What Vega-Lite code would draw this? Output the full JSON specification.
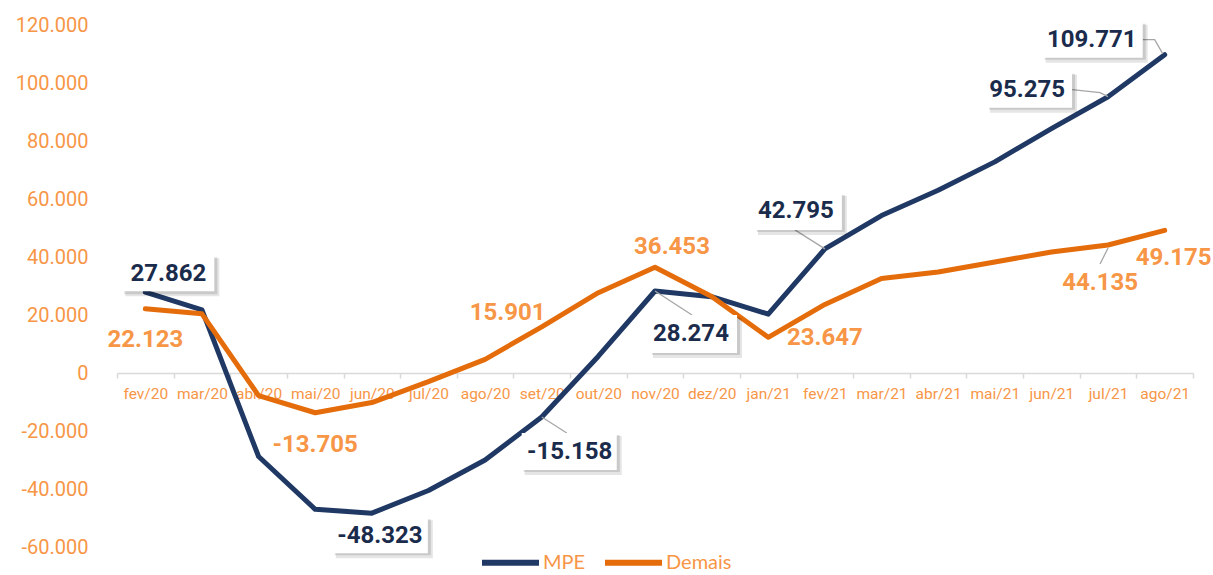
{
  "$schema": "https://vega.github.io/schema/vega-lite/v6.json",
  "width": 1076,
  "height": 522,
  "autosize": "none",
  "padding": {"left": 117, "top": 25, "right": 20, "bottom": 28},
  "background": "white",
  "config": {
    "view": {"stroke": null},
    "locale": {"number": {"decimal": ",", "thousands": ".", "grouping": [3], "currency": ["R$ ", ""], "minus": "-"}}
  },
  "datasets": {
    "lines": [
      {"month": "fev/20", "series": "MPE", "value": 27862},
      {"month": "mar/20", "series": "MPE", "value": 21800},
      {"month": "abr/20", "series": "MPE", "value": -28800},
      {"month": "mai/20", "series": "MPE", "value": -47000},
      {"month": "jun/20", "series": "MPE", "value": -48323},
      {"month": "jul/20", "series": "MPE", "value": -40500},
      {"month": "ago/20", "series": "MPE", "value": -30000},
      {"month": "set/20", "series": "MPE", "value": -15158},
      {"month": "out/20", "series": "MPE", "value": 5800},
      {"month": "nov/20", "series": "MPE", "value": 28274},
      {"month": "dez/20", "series": "MPE", "value": 26300},
      {"month": "jan/21", "series": "MPE", "value": 20300},
      {"month": "fev/21", "series": "MPE", "value": 42795},
      {"month": "mar/21", "series": "MPE", "value": 54300},
      {"month": "abr/21", "series": "MPE", "value": 63000},
      {"month": "mai/21", "series": "MPE", "value": 72800},
      {"month": "jun/21", "series": "MPE", "value": 84300},
      {"month": "jul/21", "series": "MPE", "value": 95275},
      {"month": "ago/21", "series": "MPE", "value": 109771},
      {"month": "fev/20", "series": "Demais", "value": 22123},
      {"month": "mar/20", "series": "Demais", "value": 20400},
      {"month": "abr/20", "series": "Demais", "value": -7800},
      {"month": "mai/20", "series": "Demais", "value": -13705},
      {"month": "jun/20", "series": "Demais", "value": -10200},
      {"month": "jul/20", "series": "Demais", "value": -3000},
      {"month": "ago/20", "series": "Demais", "value": 4700},
      {"month": "set/20", "series": "Demais", "value": 15901},
      {"month": "out/20", "series": "Demais", "value": 27700},
      {"month": "nov/20", "series": "Demais", "value": 36453},
      {"month": "dez/20", "series": "Demais", "value": 26400},
      {"month": "jan/21", "series": "Demais", "value": 12300},
      {"month": "fev/21", "series": "Demais", "value": 23647},
      {"month": "mar/21", "series": "Demais", "value": 32600},
      {"month": "abr/21", "series": "Demais", "value": 34800},
      {"month": "mai/21", "series": "Demais", "value": 38300},
      {"month": "jun/21", "series": "Demais", "value": 41700},
      {"month": "jul/21", "series": "Demais", "value": 44135},
      {"month": "ago/21", "series": "Demais", "value": 49175}
    ]
  },
  "data": {"name": "lines"},
  "encoding": {
    "x": {
      "field": "month", "type": "ordinal", "bandPosition": 0.5,
      "sort": ["fev/20","mar/20","abr/20","mai/20","jun/20","jul/20","ago/20","set/20","out/20","nov/20","dez/20","jan/21","fev/21","mar/21","abr/21","mai/21","jun/21","jul/21","ago/21"],
      "scale": {"type": "band", "paddingInner": 0, "paddingOuter": 0},
      "axis": {"title": null, "offset": -174, "grid": false, "domainColor": "#D9D9D9", "domainWidth": 1.5, "tickColor": "#D9D9D9", "tickWidth": 1.5, "tickSize": 5, "tickBand": "extent", "labelColor": "#F79646", "labelFont": "Roboto", "labelFontSize": 15.5, "labelPadding": 8, "labelAngle": 0}
    },
    "y": {
      "field": "value", "type": "quantitative",
      "scale": {"domain": [-60000, 120000], "nice": false, "zero": false},
      "axis": {"title": null, "grid": false, "domain": false, "ticks": false, "values": [-60000,-40000,-20000,0,20000,40000,60000,80000,100000,120000], "format": ",d", "labelColor": "#F79646", "labelFont": "Roboto", "labelFontSize": 20, "labelPadding": 29}
    }
  },
  "layer": [
    {
      "mark": {"type": "line", "strokeWidth": 5, "strokeCap": "round", "strokeJoin": "round"},
      "encoding": {
        "color": {
          "field": "series", "type": "nominal",
          "scale": {"domain": ["MPE", "Demais"], "range": ["#1F3864", "#E46C0A"]},
          "sort": ["MPE", "Demais"],
          "legend": {"orient": "none", "legendX": 362, "legendY": 506, "direction": "horizontal", "title": null, "symbolType": "stroke", "symbolSize": 3249, "symbolStrokeWidth": 6, "labelColor": "#F79646", "labelFont": "Lato", "labelFontSize": 20, "labelOffset": 1, "columnPadding": 7}
        },
        "order": {"field": "series", "sort": "descending"}
      }
    },
    {
      "transform": [{"filter": "datum.series === 'MPE' && datum.month === 'fev/20'"}],
      "layer": [
        {"mark": {"type": "point", "size": 4, "filled": true, "fill": "#000", "opacity": 0.1, "shape": "M-20,-34H74V4H-20Z"}},
        {"mark": {"type": "point", "size": 4, "filled": true, "fill": "#000", "opacity": 0.12, "shape": "M-21,-35H72V2H-21Z"}},
        {"mark": {"type": "point", "size": 4, "filled": true, "fill": "#fff", "opacity": 1, "shape": "M-23,-37H69V-1H-23Z"}},
        {"mark": {"type": "text", "dx": 23, "dy": -18, "font": "Roboto", "fontWeight": "bold", "fontSize": 24, "color": "#1A2B4C", "align": "center", "baseline": "middle"}, "encoding": {"text": {"field": "value", "format": ",d"}}}
      ]
    },
    {
      "transform": [{"filter": "datum.series === 'MPE' && datum.month === 'jun/20'"}],
      "layer": [
        {"mark": {"type": "point", "size": 4, "filled": true, "fill": "#000", "opacity": 0.1, "shape": "M-36,7H61V45H-36Z"}},
        {"mark": {"type": "point", "size": 4, "filled": true, "fill": "#000", "opacity": 0.12, "shape": "M-37,6H59V42H-37Z"}},
        {"mark": {"type": "point", "size": 4, "filled": true, "fill": "#fff", "opacity": 1, "shape": "M-40,4H56V40H-40Z"}},
        {"mark": {"type": "text", "dx": 8, "dy": 23, "font": "Roboto", "fontWeight": "bold", "fontSize": 24, "color": "#1A2B4C", "align": "center", "baseline": "middle"}, "encoding": {"text": {"field": "value", "format": ",d"}}}
      ]
    },
    {
      "transform": [{"filter": "datum.series === 'MPE' && datum.month === 'set/20'"}],
      "layer": [
        {"mark": {"type": "point", "size": 4, "color": "#A6A6A6", "filled": false, "strokeWidth": 1.3, "opacity": 1, "shape": "M0,0L25,16"}},
        {"mark": {"type": "point", "size": 4, "filled": true, "fill": "#000", "opacity": 0.1, "shape": "M-17,19H80V58H-17Z"}},
        {"mark": {"type": "point", "size": 4, "filled": true, "fill": "#000", "opacity": 0.12, "shape": "M-18,18H78V55H-18Z"}},
        {"mark": {"type": "point", "size": 4, "filled": true, "fill": "#fff", "opacity": 1, "shape": "M-20,16H75V53H-20Z"}},
        {"mark": {"type": "text", "dx": 28, "dy": 35, "font": "Roboto", "fontWeight": "bold", "fontSize": 24, "color": "#1A2B4C", "align": "center", "baseline": "middle"}, "encoding": {"text": {"field": "value", "format": ",d"}}}
      ]
    },
    {
      "transform": [{"filter": "datum.series === 'MPE' && datum.month === 'nov/20'"}],
      "layer": [
        {"mark": {"type": "point", "size": 4, "color": "#A6A6A6", "filled": false, "strokeWidth": 1.3, "opacity": 1, "shape": "M0,0L37,24"}},
        {"mark": {"type": "point", "size": 4, "filled": true, "fill": "#000", "opacity": 0.1, "shape": "M-2,27H87V67H-2Z"}},
        {"mark": {"type": "point", "size": 4, "filled": true, "fill": "#000", "opacity": 0.12, "shape": "M-3,26H85V64H-3Z"}},
        {"mark": {"type": "point", "size": 4, "filled": true, "fill": "#fff", "opacity": 1, "shape": "M-5,24H82V62H-5Z"}},
        {"mark": {"type": "text", "dx": 36, "dy": 43, "font": "Roboto", "fontWeight": "bold", "fontSize": 24, "color": "#1A2B4C", "align": "center", "baseline": "middle"}, "encoding": {"text": {"field": "value", "format": ",d"}}}
      ]
    },
    {
      "transform": [{"filter": "datum.series === 'MPE' && datum.month === 'fev/21'"}],
      "layer": [
        {"mark": {"type": "point", "size": 4, "color": "#A6A6A6", "filled": false, "strokeWidth": 1.3, "opacity": 1, "shape": "M0,0L-30,-19"}},
        {"mark": {"type": "point", "size": 4, "filled": true, "fill": "#000", "opacity": 0.1, "shape": "M-67,-53H22V-14H-67Z"}},
        {"mark": {"type": "point", "size": 4, "filled": true, "fill": "#000", "opacity": 0.12, "shape": "M-68,-54H20V-17H-68Z"}},
        {"mark": {"type": "point", "size": 4, "filled": true, "fill": "#fff", "opacity": 1, "shape": "M-70,-56H17V-19H-70Z"}},
        {"mark": {"type": "text", "dx": -29, "dy": -38, "font": "Roboto", "fontWeight": "bold", "fontSize": 24, "color": "#1A2B4C", "align": "center", "baseline": "middle"}, "encoding": {"text": {"field": "value", "format": ",d"}}}
      ]
    },
    {
      "transform": [{"filter": "datum.series === 'MPE' && datum.month === 'jul/21'"}],
      "layer": [
        {"mark": {"type": "point", "size": 4, "color": "#A6A6A6", "filled": false, "strokeWidth": 1.3, "opacity": 1, "shape": "M-36,-7L-8,-4L0,0"}},
        {"mark": {"type": "point", "size": 4, "filled": true, "fill": "#000", "opacity": 0.1, "shape": "M-118,-22H-31V16H-118Z"}},
        {"mark": {"type": "point", "size": 4, "filled": true, "fill": "#000", "opacity": 0.12, "shape": "M-119,-23H-33V13H-119Z"}},
        {"mark": {"type": "point", "size": 4, "filled": true, "fill": "#fff", "opacity": 1, "shape": "M-121,-25H-36V11H-121Z"}},
        {"mark": {"type": "text", "dx": -81, "dy": -7, "font": "Roboto", "fontWeight": "bold", "fontSize": 24, "color": "#1A2B4C", "align": "center", "baseline": "middle"}, "encoding": {"text": {"field": "value", "format": ",d"}}}
      ]
    },
    {
      "transform": [{"filter": "datum.series === 'MPE' && datum.month === 'ago/21'"}],
      "layer": [
        {"mark": {"type": "point", "size": 4, "color": "#A6A6A6", "filled": false, "strokeWidth": 1.3, "opacity": 1, "shape": "M-22,-15L-10,-15L-2,-1"}},
        {"mark": {"type": "point", "size": 4, "filled": true, "fill": "#000", "opacity": 0.1, "shape": "M-119,-30H-17V8H-119Z"}},
        {"mark": {"type": "point", "size": 4, "filled": true, "fill": "#000", "opacity": 0.12, "shape": "M-120,-31H-19V5H-120Z"}},
        {"mark": {"type": "point", "size": 4, "filled": true, "fill": "#fff", "opacity": 1, "shape": "M-122,-33H-22V3H-122Z"}},
        {"mark": {"type": "text", "dx": -73, "dy": -15, "font": "Roboto", "fontWeight": "bold", "fontSize": 24, "color": "#1A2B4C", "align": "center", "baseline": "middle"}, "encoding": {"text": {"field": "value", "format": ",d"}}}
      ]
    },
    {
      "transform": [{"filter": "datum.series === 'Demais' && datum.month === 'jul/21'"}],
      "mark": {"type": "point", "size": 4, "color": "#A6A6A6", "filled": false, "strokeWidth": 1.3, "opacity": 1, "shape": "M0,3L-8,19"}
    },
    {
      "transform": [{"filter": "datum.series === 'Demais' && datum.month === 'fev/20'"}],
      "mark": {"type": "text", "dx": 0, "dy": 31, "font": "Roboto", "fontWeight": "bold", "fontSize": 24, "color": "#F79646", "align": "center", "baseline": "middle"},
      "encoding": {"text": {"field": "value", "format": ",d"}}
    },
    {
      "transform": [{"filter": "datum.series === 'Demais' && datum.month === 'mai/20'"}],
      "mark": {"type": "text", "dx": 0, "dy": 32, "font": "Roboto", "fontWeight": "bold", "fontSize": 24, "color": "#F79646", "align": "center", "baseline": "middle"},
      "encoding": {"text": {"field": "value", "format": ",d"}}
    },
    {
      "transform": [{"filter": "datum.series === 'Demais' && datum.month === 'set/20'"}],
      "mark": {"type": "text", "dx": -34, "dy": -14, "font": "Roboto", "fontWeight": "bold", "fontSize": 24, "color": "#F79646", "align": "center", "baseline": "middle"},
      "encoding": {"text": {"field": "value", "format": ",d"}}
    },
    {
      "transform": [{"filter": "datum.series === 'Demais' && datum.month === 'nov/20'"}],
      "mark": {"type": "text", "dx": 17, "dy": -20, "font": "Roboto", "fontWeight": "bold", "fontSize": 24, "color": "#F79646", "align": "center", "baseline": "middle"},
      "encoding": {"text": {"field": "value", "format": ",d"}}
    },
    {
      "transform": [{"filter": "datum.series === 'Demais' && datum.month === 'fev/21'"}],
      "mark": {"type": "text", "dx": 0, "dy": 34, "font": "Roboto", "fontWeight": "bold", "fontSize": 24, "color": "#F79646", "align": "center", "baseline": "middle"},
      "encoding": {"text": {"field": "value", "format": ",d"}}
    },
    {
      "transform": [{"filter": "datum.series === 'Demais' && datum.month === 'jul/21'"}],
      "mark": {"type": "text", "dx": -8, "dy": 38, "font": "Roboto", "fontWeight": "bold", "fontSize": 24, "color": "#F79646", "align": "center", "baseline": "middle"},
      "encoding": {"text": {"field": "value", "format": ",d"}}
    },
    {
      "transform": [{"filter": "datum.series === 'Demais' && datum.month === 'ago/21'"}],
      "mark": {"type": "text", "dx": 9, "dy": 28, "font": "Roboto", "fontWeight": "bold", "fontSize": 24, "color": "#F79646", "align": "center", "baseline": "middle"},
      "encoding": {"text": {"field": "value", "format": ",d"}}
    }
  ]
}
